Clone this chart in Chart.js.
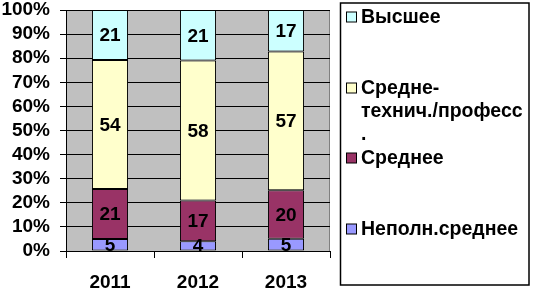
<!DOCTYPE html>
<html>
<head>
<meta charset="utf-8">
<script src="https://cdn.jsdelivr.net/npm/chart.js@4"></script>
<style>
  html, body { margin: 0; padding: 0; background: #fff; }
  #wrap { width: 533px; height: 294px; }
</style>
</head>
<body>
<div id="wrap"><canvas id="grafico" width="533" height="294"></canvas></div>
<script>
// Данные
const years = ["2011", "2012", "2013"];
const seriesNames = ["Неполн.среднее", "Среднее", "Средне-технич./професс.", "Высшее"];
const nepolnSrednee = [5, 4, 5];
const srednee = [21, 17, 20];
const srednetehn = [54, 58, 57];
const vysshee = [21, 21, 17];
const yTicks = [0, 10, 20, 30, 40, 50, 60, 70, 80, 90, 100];

const FONT = "'Liberation Sans', Arial, sans-serif";
const colors = ["#9999FF", "#993366", "#FFFFCC", "#CCFFFF"];
const raw = [nepolnSrednee, srednee, srednetehn, vysshee];

// 100% нормировка по годам
const totals = years.map((_, i) => raw.reduce((s, arr) => s + arr[i], 0));
const datasets = raw.map((arr, k) => ({
    label: seriesNames[k],
    data: arr.map((v, i) => v / totals[i] * 100),
    rawValues: arr,
    backgroundColor: colors[k],
    borderColor: "#000",
    borderWidth: 1,
    borderSkipped: false,
    barPercentage: 0.41,
    categoryPercentage: 1
}));

// Серый фон области построения
const plotBg = {
    id: "plotBg",
    beforeDraw(chart) {
        const { ctx, chartArea: a } = chart;
        ctx.save();
        ctx.fillStyle = "#C0C0C0";
        ctx.fillRect(a.left, a.top, a.right - a.left, a.bottom - a.top);
        ctx.strokeStyle = "#808080";
        ctx.lineWidth = 1;
        ctx.beginPath();
        ctx.moveTo(a.left, a.top + 0.5);
        ctx.lineTo(a.right - 0.5, a.top + 0.5);
        ctx.lineTo(a.right - 0.5, a.bottom);
        ctx.stroke();
        ctx.restore();
    }
};

// Подписи значений
const valueLabels = {
    id: "valueLabels",
    afterDatasetsDraw(chart) {
        const ctx = chart.ctx;
        ctx.save();
        ctx.font = "bold 19px " + FONT;
        ctx.fillStyle = "#000";
        ctx.textAlign = "center";
        ctx.textBaseline = "middle";
        chart.data.datasets.forEach((ds, k) => {
            chart.getDatasetMeta(k).data.forEach((bar, i) => {
                const y = (bar.y + bar.base) / 2;
                ctx.fillText(String(ds.rawValues[i]), bar.x, y + 1);
            });
        });
        ctx.restore();
    }
};

// Легенда справа
const legendLines = [
    { idx: 3, y: 17, lines: ["Высшее"] },
    { idx: 2, y: 88, lines: ["Средне-", "технич./професс", "."] },
    { idx: 1, y: 158, lines: ["Среднее"] },
    { idx: 0, y: 229, lines: ["Неполн.среднее"] }
];
const sideLegend = {
    id: "sideLegend",
    afterDraw(chart) {
        const ctx = chart.ctx;
        ctx.save();
        ctx.strokeStyle = "#000";
        ctx.lineWidth = 1.5;
        ctx.strokeRect(340.5, 3, 188.5, 282);
        ctx.font = "bold 19.5px " + FONT;
        ctx.textBaseline = "middle";
        ctx.textAlign = "left";
        legendLines.forEach(item => {
            ctx.fillStyle = colors[item.idx];
            ctx.fillRect(346.5, item.y - 5, 10, 10);
            ctx.lineWidth = 1;
            ctx.strokeStyle = "#000";
            ctx.strokeRect(346.5, item.y - 5, 10, 10);
            ctx.fillStyle = "#000";
            item.lines.forEach((t, j) => {
                ctx.fillText(t, 361, item.y + j * 23 + 1);
            });
        });
        ctx.restore();
    }
};

new Chart(document.getElementById("grafico"), {
    type: "bar",
    data: { labels: years, datasets: datasets },
    options: {
        responsive: false,
        animation: false,
        layout: { padding: { left: 0, right: 203, top: 10, bottom: 2 } },
        plugins: {
            legend: { display: false },
            tooltip: { enabled: false }
        },
        scales: {
            x: {
                stacked: true,
                afterFit(scale) {
                    scale.height = 41;
                    scale.paddingLeft = 0;
                    scale.paddingRight = 0;
                },
                grid: {
                    offset: true,
                    drawOnChartArea: false,
                    color: "#000",
                    tickLength: 7
                },
                border: { color: "#000", width: 1 },
                ticks: {
                    color: "#000",
                    padding: 13,
                    font: { family: FONT, size: 19, weight: "bold" }
                }
            },
            y: {
                stacked: true,
                min: 0,
                max: 100,
                afterBuildTicks(scale) {
                    scale.ticks = yTicks.map(v => ({ value: v }));
                },
                afterFit(scale) {
                    scale.width = 66;
                    scale.paddingTop = 0;
                    scale.paddingBottom = 0;
                },
                grid: { color: "#000", tickLength: 6 },
                border: { color: "#000", width: 1 },
                ticks: {
                    color: "#000",
                    padding: 10,
                    autoSkip: false,
                    font: { family: FONT, size: 19, weight: "bold" },
                    callback: v => v + "%"
                }
            }
        }
    },
    plugins: [plotBg, valueLabels, sideLegend]
});
</script>
</body>
</html>
